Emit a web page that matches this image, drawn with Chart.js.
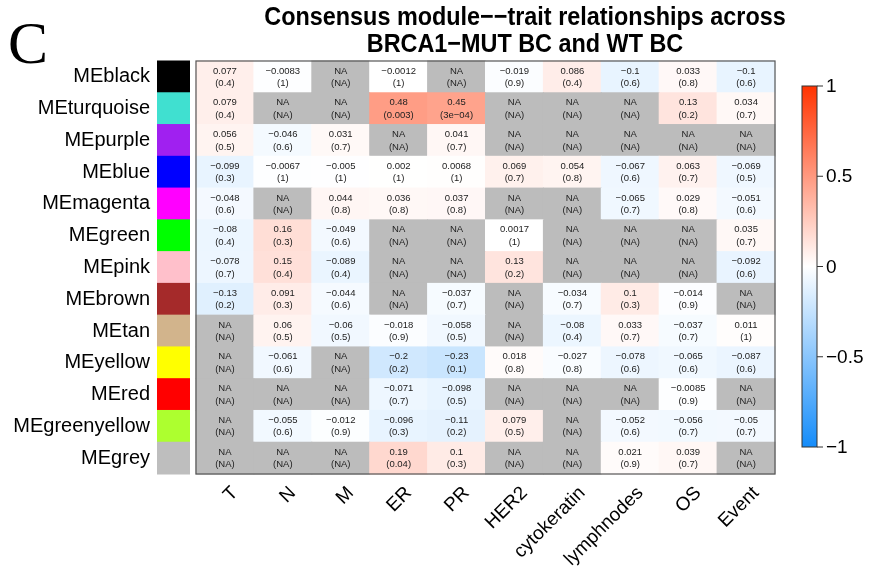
<!DOCTYPE html>
<html>
<head>
<meta charset="utf-8">
<script src="https://cdn.jsdelivr.net/npm/chart.js@4.4.0/dist/chart.umd.min.js"></script>
<style>
  html, body { margin: 0; padding: 0; background: #fff; }
</style>
</head>
<body>
<canvas id="heatmap" width="874" height="574"></canvas>
<script>
"use strict";

const traits = ["T", "N", "M", "ER", "PR", "HER2", "cytokeratin", "lymphnodes", "OS", "Event"];
const modules = ["MEblack", "MEturquoise", "MEpurple", "MEblue", "MEmagenta", "MEgreen", "MEpink",
                 "MEbrown", "MEtan", "MEyellow", "MEred", "MEgreenyellow", "MEgrey"];
const moduleColors = ["#000000", "#40E0D0", "#A020F0", "#0000FF", "#FF00FF", "#00FF00", "#FFC0CB",
                      "#A52A2A", "#D2B48C", "#FFFF00", "#FF0000", "#ADFF2F", "#BEBEBE"];

// correlation per module row (null = NA)
const corrValues = [
  [0.077, -0.0083, null, -0.0012, null, -0.019, 0.086, -0.1, 0.033, -0.1],
  [0.079, null, null, 0.48, 0.45, null, null, null, 0.13, 0.034],
  [0.056, -0.046, 0.031, null, 0.041, null, null, null, null, null],
  [-0.099, -0.0067, -0.005, 0.002, 0.0068, 0.069, 0.054, -0.067, 0.063, -0.069],
  [-0.048, null, 0.044, 0.036, 0.037, null, null, -0.065, 0.029, -0.051],
  [-0.08, 0.16, -0.049, null, null, 0.0017, null, null, null, 0.035],
  [-0.078, 0.15, -0.089, null, null, 0.13, null, null, null, -0.092],
  [-0.13, 0.091, -0.044, null, -0.037, null, -0.034, 0.1, -0.014, null],
  [null, 0.06, -0.06, -0.018, -0.058, null, -0.08, 0.033, -0.037, 0.011],
  [null, -0.061, null, -0.2, -0.23, 0.018, -0.027, -0.078, -0.065, -0.087],
  [null, null, null, -0.071, -0.098, null, null, null, -0.0085, null],
  [null, -0.055, -0.012, -0.096, -0.11, 0.079, null, -0.052, -0.056, -0.05],
  [null, null, null, 0.19, 0.1, null, null, 0.021, 0.039, null]
];

// p-values per module row (null = NA)
const pValues = [
  [0.4, 1, null, 1, null, 0.9, 0.4, 0.6, 0.8, 0.6],
  [0.4, null, null, 0.003, 3e-4, null, null, null, 0.2, 0.7],
  [0.5, 0.6, 0.7, null, 0.7, null, null, null, null, null],
  [0.3, 1, 1, 1, 1, 0.7, 0.8, 0.6, 0.7, 0.5],
  [0.6, null, 0.8, 0.8, 0.8, null, null, 0.7, 0.8, 0.6],
  [0.4, 0.3, 0.6, null, null, 1, null, null, null, 0.7],
  [0.7, 0.4, 0.4, null, null, 0.2, null, null, null, 0.6],
  [0.2, 0.3, 0.6, null, 0.7, null, 0.7, 0.3, 0.9, null],
  [null, 0.5, 0.5, 0.9, 0.5, null, 0.4, 0.7, 0.7, 1],
  [null, 0.6, null, 0.2, 0.1, 0.8, 0.8, 0.6, 0.6, 0.6],
  [null, null, null, 0.7, 0.5, null, null, null, 0.9, null],
  [null, 0.6, 0.9, 0.3, 0.2, 0.5, null, 0.6, 0.7, 0.7],
  [null, null, null, 0.04, 0.3, null, null, 0.9, 0.7, null]
];

const colorbarTicks = [1, 0.5, 0, -0.5, -1];
const titleLines = ["Consensus module\u2212\u2212trait relationships across", "BRCA1\u2212MUT BC and WT BC"];

const RED_END = [255, 51, 0];
const BLUE_END = [20, 140, 250];
const NA_COLOR = "#bcbcbc";

function corrColor(v) {
  if (v === null) return NA_COLOR;
  const end = v >= 0 ? RED_END : BLUE_END;
  const t = Math.min(1, Math.abs(v));
  const c = end.map(e => Math.round(255 + (e - 255) * t));
  return "rgb(" + c.join(",") + ")";
}

function fmtNum(v) {
  if (v === null) return "NA";
  let s = String(v);
  if (v !== 0 && Math.abs(v) < 0.001) s = v.toExponential(0).replace(/e-(\d)$/, "e-0$1");
  return s.replace(/-/g, "\u2212");
}

let cells = [];
modules.forEach((m, i) => {
  traits.forEach((t, j) => {
    cells.push({x: t, y: m, corr: corrValues[i][j], p: pValues[i][j]});
  });
});

const heatmapPlugin = {
  id: "heatmapCells",
  beforeDatasetsDraw(chart) {
    const ctx = chart.ctx;
    const area = chart.chartArea;
    const xs = chart.scales.x, ys = chart.scales.y;
    const cw = xs.getPixelForValue(1) - xs.getPixelForValue(0);
    const ch = ys.getPixelForValue(1) - ys.getPixelForValue(0);
    const meta = chart.getDatasetMeta(0);
    const data = chart.data.datasets[0].data;

    ctx.save();
    meta.data.forEach((pt, k) => {
      ctx.fillStyle = corrColor(data[k].corr);
      ctx.fillRect(pt.x - cw / 2 - 0.5, pt.y - ch / 2 - 0.5, cw + 1, ch + 1);
    });

    ctx.fillStyle = "#222";
    ctx.font = "9.5px 'Liberation Sans', Arial, sans-serif";
    ctx.textAlign = "center";
    ctx.textBaseline = "middle";
    meta.data.forEach((pt, k) => {
      ctx.fillText(fmtNum(data[k].corr), pt.x, pt.y - 6);
      ctx.fillText("(" + fmtNum(data[k].p) + ")", pt.x, pt.y + 6.5);
    });

    // module colour swatches
    modules.forEach((m, i) => {
      const yc = ys.getPixelForValue(i);
      ctx.fillStyle = moduleColors[i];
      ctx.fillRect(area.left - 39, yc - ch / 2 - 0.5, 33, ch + 1);
    });

    ctx.strokeStyle = "#555";
    ctx.lineWidth = 1.2;
    ctx.strokeRect(area.left, area.top, area.right - area.left, area.bottom - area.top);
    ctx.restore();
  },
  afterDraw(chart) {
    const ctx = chart.ctx;
    ctx.save();

    // panel letter
    ctx.fillStyle = "#000";
    ctx.font = "60px 'Liberation Serif', 'Times New Roman', serif";
    ctx.textAlign = "left";
    ctx.textBaseline = "alphabetic";
    ctx.fillText("C", 8, 63);

    // title (condensed bold)
    ctx.font = "bold 26px 'Liberation Sans', Arial, sans-serif";
    ctx.textAlign = "center";
    ctx.textBaseline = "middle";
    const squeeze = 0.9;
    titleLines.forEach((line, i) => {
      ctx.save();
      ctx.translate(525, 18 + i * 27);
      ctx.scale(squeeze, 1);
      ctx.fillText(line, 0, 0);
      ctx.restore();
    });

    // colour bar
    const bx = 802, bw = 15, top = 86, bottom = 447;
    const grad = ctx.createLinearGradient(0, top, 0, bottom);
    grad.addColorStop(0, corrColor(1));
    grad.addColorStop(0.5, corrColor(0));
    grad.addColorStop(1, corrColor(-1));
    ctx.fillStyle = grad;
    ctx.fillRect(bx, top, bw, bottom - top);
    ctx.strokeStyle = "#333";
    ctx.lineWidth = 1;
    ctx.strokeRect(bx, top, bw, bottom - top);

    ctx.font = "19px 'Liberation Sans', Arial, sans-serif";
    ctx.textAlign = "left";
    ctx.fillStyle = "#000";
    colorbarTicks.forEach(v => {
      const yy = bottom - (v + 1) / 2 * (bottom - top);
      ctx.beginPath();
      ctx.moveTo(bx + bw, yy);
      ctx.lineTo(bx + bw + 6, yy);
      ctx.stroke();
      ctx.fillText(fmtNum(v), bx + bw + 9, yy + 1);
    });
    ctx.restore();
  }
};

new Chart(document.getElementById("heatmap"), {
  type: "scatter",
  data: {
    datasets: [{
      data: cells,
      pointRadius: 0,
      pointHoverRadius: 0
    }]
  },
  options: {
    responsive: false,
    animation: false,
    layout: {
      padding: {top: 61, right: 99, left: 0, bottom: 0}
    },
    scales: {
      x: {
        type: "category",
        labels: traits,
        offset: true,
        grid: {display: false, drawTicks: false},
        border: {display: false},
        ticks: {
          autoSkip: false,
          maxRotation: 45,
          minRotation: 45,
          padding: 8,
          labelOffset: 10,
          color: "#000",
          font: {family: "'Liberation Sans', Arial, sans-serif", size: 19}
        },
        afterFit(scale) { scale.height = 100; }
      },
      y: {
        type: "category",
        labels: modules,
        offset: true,
        grid: {display: false, drawTicks: false},
        border: {display: false},
        ticks: {
          autoSkip: false,
          padding: 46,
          color: "#000",
          font: {family: "'Liberation Sans', Arial, sans-serif", size: 20}
        },
        afterFit(scale) { scale.width = 196; }
      }
    },
    plugins: {
      legend: {display: false},
      tooltip: {enabled: false}
    }
  },
  plugins: [heatmapPlugin]
});
</script>
</body>
</html>
